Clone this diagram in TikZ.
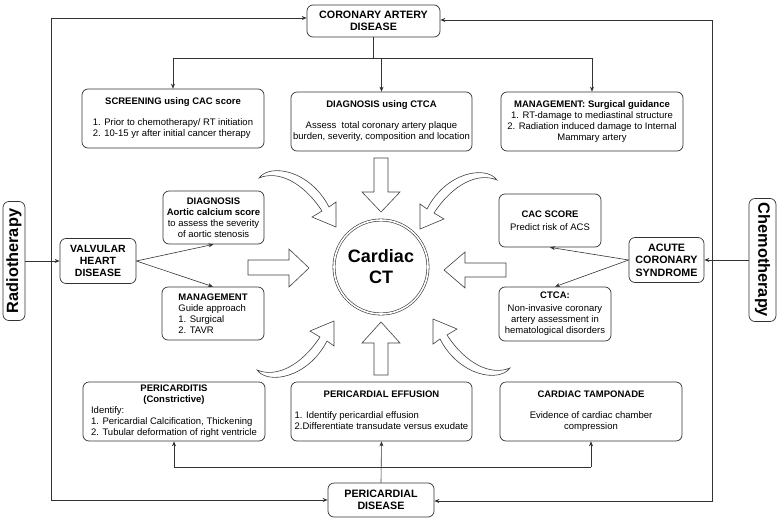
\documentclass[tikz,border=0pt]{standalone}
\usepackage{fontspec}
\setmainfont{Liberation Sans}
\usetikzlibrary{arrows.meta}
\begin{document}
\begin{tikzpicture}[x=1pt,y=-1pt,
  every node/.style={font=\fontsize{9.5}{11}\selectfont, inner sep=0pt},
  box/.style={draw=black!80, line width=0.7pt, rounded corners=6pt, align=center},
  sz/.style 2 args={minimum width=#1pt, minimum height=#2pt},
  ttl/.style={font=\fontsize{10.7}{12.5}\selectfont\bfseries},
  side/.style={font=\fontsize{16.3}{18}\selectfont\bfseries},
  ln/.style={draw=black!80, line width=0.6pt},
  arr/.style={ln, -{Stealth[length=5pt,width=4pt]}},
  dbl/.style={ln, {Stealth[length=5pt,width=4pt]}-{Stealth[length=5pt,width=4pt]}},
  blk/.style={draw=black!75, line width=0.6pt, fill=white, line join=miter},
  curv/.pic={\draw[blk] (0,0) .. controls (11,-15) and (51,-8) .. (70,29) -- (77,24) -- (77,49) -- (53,39) -- (63,33) .. controls (44,4) and (19,-8) .. (0,0) -- cycle;}
]
\useasboundingbox (0,0) rectangle (780,520);

% top
\node[box,ttl,sz={133}{32}] (cad) at (373.5,21) {CORONARY ARTERY\\DISEASE};
\node[box,sz={182}{59}] (scr) at (173,118.5) {\textbf{SCREENING using CAC score}\\[10pt]\begin{tabular}[t]{@{}l@{}}1. Prior to chemotherapy/ RT initiation\\2. 10-15 yr after initial cancer therapy\end{tabular}};
\node[box,sz={181}{59}] (dct) at (381.5,121.5) {\textbf{DIAGNOSIS using CTCA}\\[10pt]Assess\ \ total coronary artery plaque\\burden, severity, composition and location};
\node[box,sz={182}{59}] (mgt) at (592,121.5) {\textbf{MANAGEMENT: Surgical guidance}\\1. RT-damage to mediastinal structure\\2. Radiation induced damage to Internal\\Mammary artery};

% left
\node[box,side,rotate=90,sz={119}{22}] (radio) at (14,261) {Radiotherapy};
\node[box,ttl,font=\fontsize{10.5}{12}\selectfont\bfseries,sz={76}{45}] (vhd) at (98,261) {VALVULAR\\HEART\\DISEASE};
\node[box,sz={101}{53}] (dia) at (213.5,217.5) {\textbf{DIAGNOSIS}\\\textbf{Aortic calcium score}\\to assess the severity\\of aortic stenosis};
\node[box,align=left,sz={102}{53}] (mgv) at (213,313.5) {\textbf{MANAGEMENT}\\Guide approach\\1. Surgical\\2. TAVR};

% right
\node[box,side,rotate=-90,sz={123}{27}] (chemo) at (762.5,260) {Chemotherapy};
\node[box,ttl,font=\fontsize{10.7}{12.5}\selectfont\bfseries,sz={75}{45}] (acs) at (666.5,260) {ACUTE\\CORONARY\\SYNDROME};
\node[box,sz={102}{53}] (cac) at (550,220.5) {\textbf{CAC SCORE}\\[2pt]Predict risk of ACS};
\node[box,sz={112}{54}] (ctca) at (555,314) {\textbf{CTCA:}\\[2pt]Non-invasive coronary\\artery assessment in\\hematological disorders};

% bottom
\node[box,sz={182}{59}] (peri) at (174,411.5) {\textbf{PERICARDITIS}\\\textbf{(Constrictive)}\\\begin{tabular}[t]{@{}l@{}}Identify:\\1. Pericardial Calcification, Thickening\\2. Tubular deformation of right ventricle\end{tabular}};
\node[box,sz={181}{59}] (eff) at (381.5,411.5) {\textbf{PERICARDIAL EFFUSION}\\[10pt]\begin{tabular}[t]{@{}l@{}}1. Identify pericardial effusion\\2.Differentiate transudate versus exudate\end{tabular}};
\node[box,sz={182}{59}] (tam) at (591,411.5) {\textbf{CARDIAC TAMPONADE}\\[10pt]Evidence of cardiac chamber\\compression};
\node[box,ttl,sz={106}{34}] (pd) at (381,500) {PERICARDIAL\\DISEASE};

% center
\node[draw=black!80, line width=0.6pt, double, double distance=1.6pt, circle, minimum size=94pt, align=center, font=\fontsize{18}{21}\selectfont\bfseries] (ct) at (381,267) {Cardiac\\CT};

% block arrows
\draw[blk] (374,158) -- (388,158) -- (388,192) -- (400,192) -- (381,212) -- (362,192) -- (374,192) -- cycle;
\draw[blk] (374,375) -- (388,375) -- (388,343) -- (400,343) -- (381,322) -- (362,343) -- (374,343) -- cycle;
\draw[blk] (248,260) -- (289,260) -- (289,249) -- (309,268) -- (289,287) -- (289,275) -- (248,275) -- cycle;
\draw[blk] (506,263) -- (465,263) -- (465,252) -- (444,270) -- (465,288) -- (465,277) -- (506,277) -- cycle;
\pic (ca1) at (259,178) {curv};
\pic[xscale=-1] (ca2) at (497,180) {curv};
\pic[yscale=-1] (ca3) at (257,370) {curv};
\pic[xscale=-1,yscale=-1] (ca4) at (510,368) {curv};

% connectors
\coordinate (tl) at (51,18);
\coordinate (bl) at (51,500);
\coordinate (tr) at (712,20);
\coordinate (br) at (712,501);
\draw[dbl] (tl -| cad.west) -- (tl) -- (bl) -- (bl -| pd.west);
\draw[dbl] (tr -| cad.east) -- (tr) -- (br) -- (br -| pd.east);

\coordinate (cj) at (373.5,58);
\draw[ln] (cad.south) -- (cj);
\draw[ln] (cj -| scr.north) -- (cj -| mgt.north);
\draw[arr] (cj -| scr.north) -- (scr.north);
\draw[arr] (cj -| dct.north) -- (dct.north);
\draw[arr] (cj -| mgt.north) -- (mgt.north);

\coordinate (pj) at (381,467);
\draw[arr] (pd.north) -- (eff.south);
\draw[ln] (pj -| peri.south) -- (pj -| tam.south);
\draw[arr] (pj -| peri.south) -- (peri.south);
\draw[arr] (pj -| tam.south) -- (tam.south);

\draw[arr] (radio.south) -- (vhd.west);
\draw[arr] (vhd.east) -- (dia.south);
\draw[arr] (vhd.east) -- (mgv.north);
\draw[arr] (chemo.south) -- (acs.east);
\draw[arr] (acs.west) -- (cac.south);
\draw[arr] (acs.west) -- (ctca.north);
\end{tikzpicture}
\end{document}
